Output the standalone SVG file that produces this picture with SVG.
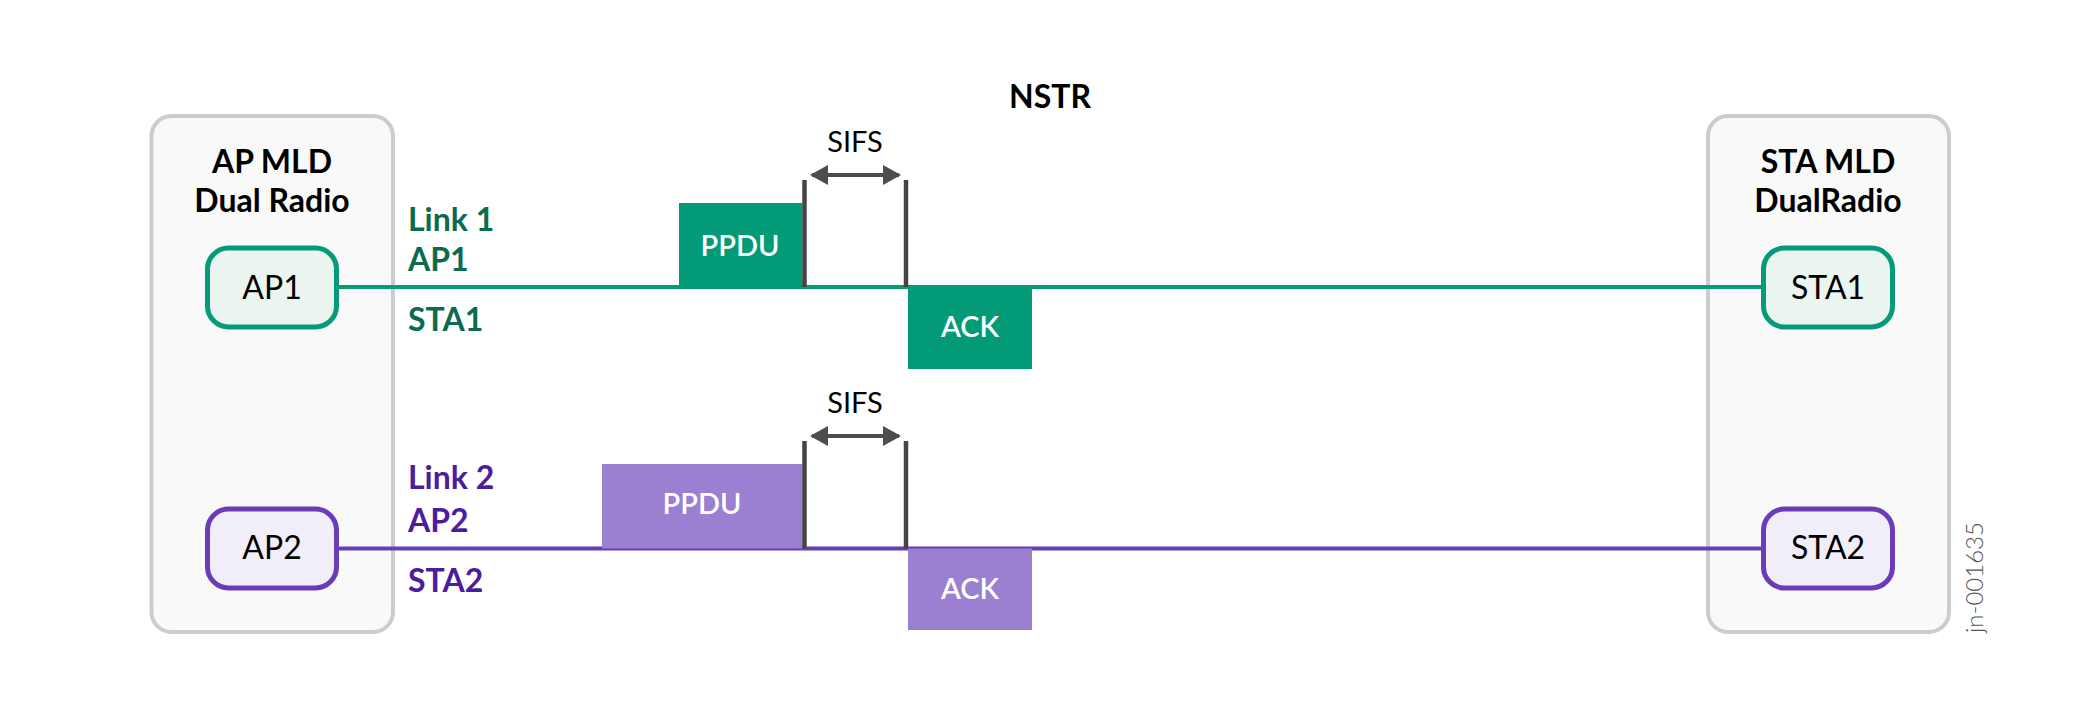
<svg xmlns="http://www.w3.org/2000/svg" width="2100" height="719" viewBox="0 0 2100 719">
<style>
  text { font-family: Lato, "Liberation Sans", sans-serif; }
  .container { fill: #f9f9f9; stroke: #cccccc; stroke-width: 4; }
  .title { font-size: 32px; font-weight: 700; fill: #000; text-anchor: middle; }
  .nodeG { fill: #ebf5f0; stroke: #06997a; stroke-width: 5; }
  .nodeP { fill: #f1eef9; stroke: #6a3cb8; stroke-width: 5; }
  .nodeText { font-size: 32px; fill: #000; text-anchor: middle; }
  .lblG { font-size: 32px; font-weight: 700; fill: #0b6b4f; }
  .lblP { font-size: 32px; font-weight: 700; fill: #4b1c9e; }
  .fillG { fill: #039a77; }
  .fillP { fill: #9b80d2; }
  .frameText { font-size: 29px; font-weight: 600; fill: #ffffff; text-anchor: middle; }
  .bar { stroke: #444444; stroke-width: 4.5; }
  .sifs { stroke: #4d4d4d; stroke-width: 4; marker-start: url(#arr); marker-end: url(#arr); }
  .sifsText { font-size: 29px; fill: #000; text-anchor: middle; }
</style>
<defs>
  <marker id="arr" markerUnits="userSpaceOnUse" viewBox="0 0 18 20" refX="16" refY="10" markerWidth="18" markerHeight="20" orient="auto-start-reverse">
    <path d="M0,0 L18,10 L0,20 z" fill="#4d4d4d"/>
  </marker>
</defs>
<rect width="2100" height="719" fill="#ffffff"/>

<text x="1050" y="108" class="title">NSTR</text>

<g id="ap-mld">
  <rect x="151.5" y="116" width="241.5" height="516" rx="20" class="container"/>
  <text x="272" y="173" class="title">AP MLD</text>
  <text x="272" y="212" class="title">Dual Radio</text>
</g>
<g id="sta-mld">
  <rect x="1708" y="116" width="241" height="516" rx="20" class="container"/>
  <text x="1828" y="173" class="title">STA MLD</text>
  <text x="1828" y="212" class="title">DualRadio</text>
</g>

<g id="connectors">
  <line x1="338" y1="287" x2="1764" y2="287" stroke="#06997a" stroke-width="4"/>
  <line x1="338" y1="548.5" x2="1764" y2="548.5" stroke="#6a3cb8" stroke-width="4"/>
</g>

<g id="ap1">
  <rect x="207.5" y="248" width="129" height="79" rx="21" class="nodeG"/>
  <text x="272" y="299" class="nodeText">AP1</text>
</g>
<g id="ap2">
  <rect x="207.5" y="509" width="129" height="79" rx="21" class="nodeP"/>
  <text x="272" y="559" class="nodeText">AP2</text>
</g>
<g id="sta1">
  <rect x="1763.5" y="248" width="129" height="79" rx="21" class="nodeG"/>
  <text x="1828" y="299" class="nodeText">STA1</text>
</g>
<g id="sta2">
  <rect x="1763.5" y="509" width="129" height="79" rx="21" class="nodeP"/>
  <text x="1828" y="559" class="nodeText">STA2</text>
</g>

<g id="link1-labels">
  <text x="408" y="231" class="lblG">Link 1</text>
  <text x="408" y="271" class="lblG">AP1</text>
  <text x="408" y="331" class="lblG">STA1</text>
</g>
<g id="link2-labels">
  <text x="408" y="489" class="lblP">Link 2</text>
  <text x="408" y="532" class="lblP">AP2</text>
  <text x="408" y="592" class="lblP">STA2</text>
</g>

<g id="link1-frames">
  <rect x="679" y="203" width="123.5" height="84" class="fillG"/>
  <text x="740" y="256" class="frameText">PPDU</text>
  <rect x="908" y="287" width="124" height="82" class="fillG"/>
  <text x="970" y="337" class="frameText">ACK</text>
  <line x1="804.5" y1="180" x2="804.5" y2="287" class="bar"/>
  <line x1="906" y1="180" x2="906" y2="287" class="bar"/>
  <line x1="812" y1="175" x2="899" y2="175" class="sifs"/>
  <text x="855" y="152" class="sifsText">SIFS</text>
</g>
<g id="link2-frames">
  <rect x="602" y="464" width="200.5" height="84.5" class="fillP"/>
  <text x="702" y="514" class="frameText">PPDU</text>
  <rect x="908" y="548.5" width="124" height="81.5" class="fillP"/>
  <text x="970" y="599" class="frameText">ACK</text>
  <line x1="804.5" y1="441" x2="804.5" y2="548.5" class="bar"/>
  <line x1="906" y1="441" x2="906" y2="548.5" class="bar"/>
  <line x1="812" y1="436" x2="899" y2="436" class="sifs"/>
  <text x="855" y="413" class="sifsText">SIFS</text>
</g>

<text transform="translate(1983,633) rotate(-90)" font-size="24" font-weight="300" fill="#555555">jn-001635</text>
</svg>
